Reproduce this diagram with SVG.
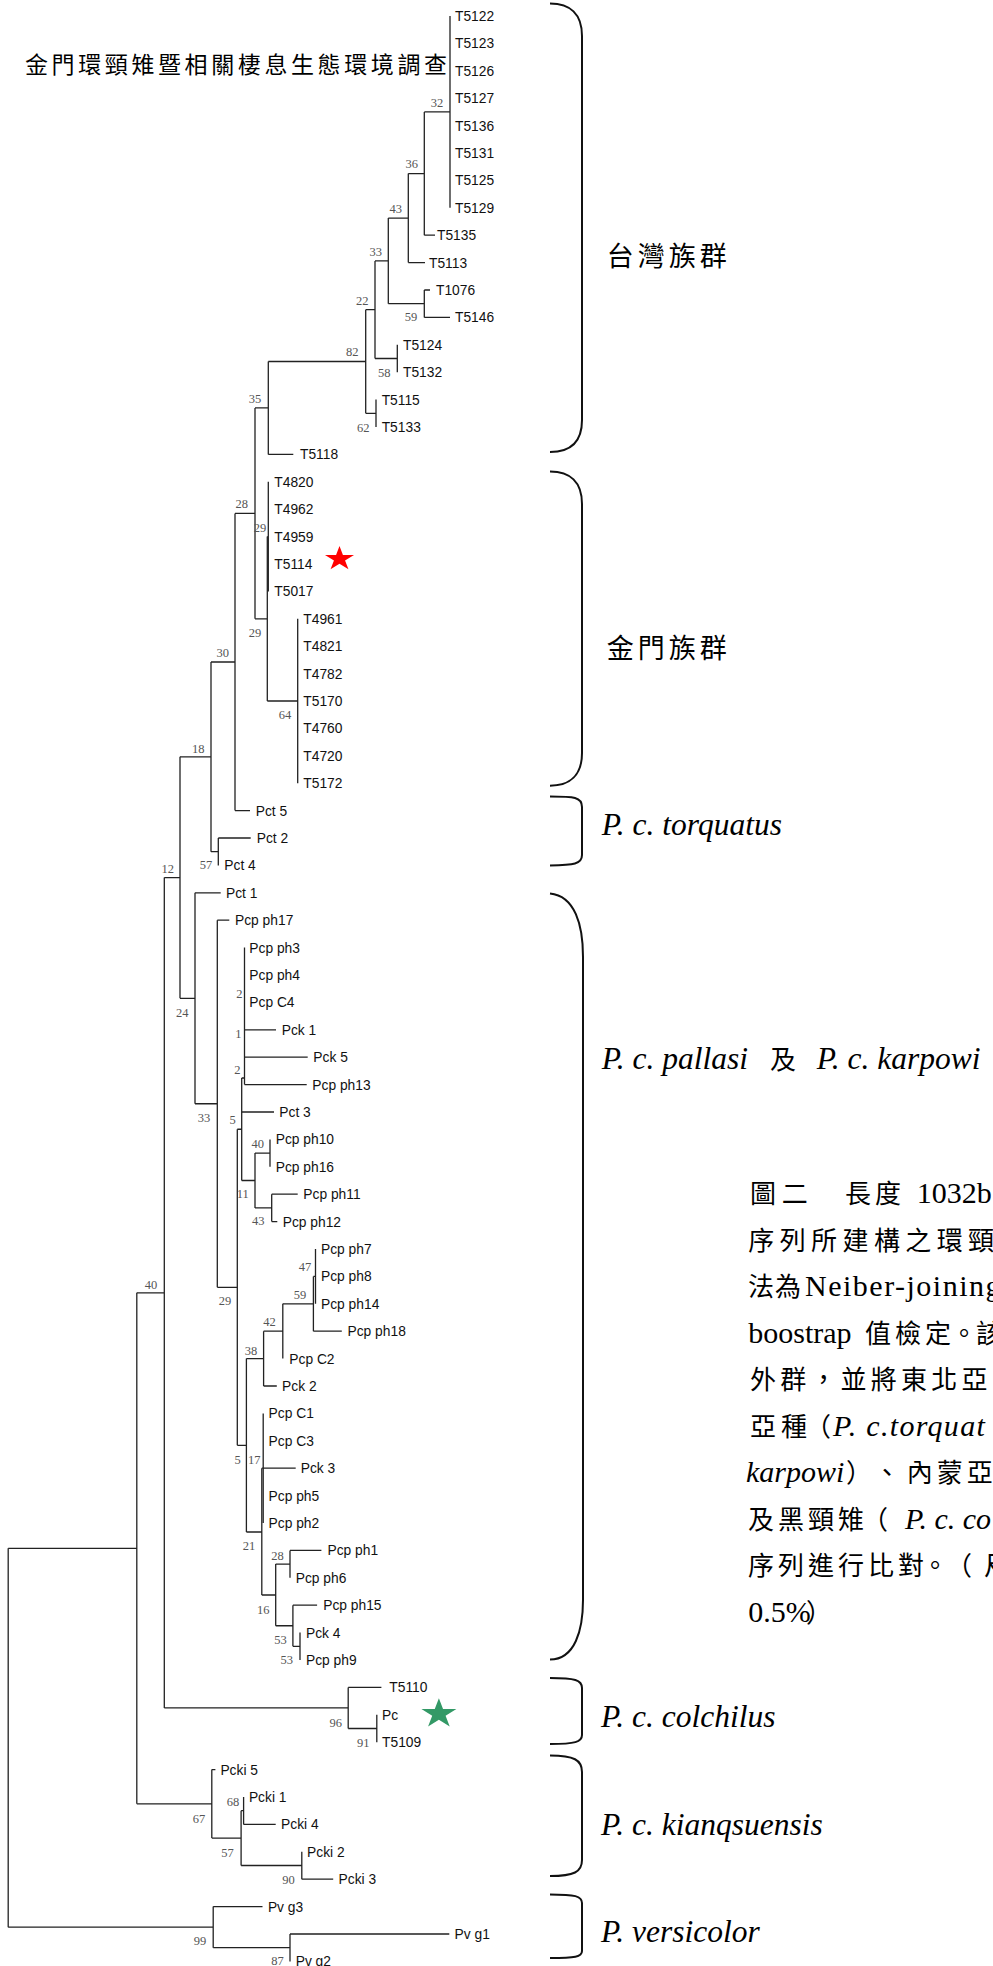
<svg xmlns="http://www.w3.org/2000/svg" xmlns:xlink="http://www.w3.org/1999/xlink" width="993" height="1966" viewBox="0 0 993 1966">
<style>
.ln{fill:none;stroke:#222;stroke-width:1.3}
.br{fill:none;stroke:#111;stroke-width:2}
.tip{font-family:"Liberation Sans",Arial,sans-serif;font-size:13.8px;fill:#111}
.bs{font-family:"Liberation Serif","Times New Roman",serif;font-size:12.5px;fill:#555;text-anchor:middle}
.cj{font-family:"Noto Sans CJK TC","Noto Sans CJK SC",sans-serif;font-size:26px;fill:#000}
.lab{font-family:"Liberation Serif","Times New Roman",serif;font-style:italic;font-size:31.5px;fill:#000}
</style>
<defs>
<path id="star" d="M0,-1 L0.2245,-0.309 L0.9511,-0.309 L0.3633,0.118 L0.5878,0.809 L0,0.382 L-0.5878,0.809 L-0.3633,0.118 L-0.9511,-0.309 L-0.2245,-0.309Z"/>
</defs>
<rect width="993" height="1966" fill="#fff"/>
<g id="title"><text class="cj" x="25" y="73" style="font-size:23px" letter-spacing="3.6">金門環頸雉暨相關棲息生態環境調查</text></g>
<g id="connectors" class="ln">
<path d="M450,16V207.8 M424.3,111.9H450"/>
<path d="M424.3,111.9V235.2 M424.3,235.2H435 M408.3,173.55H424.3"/>
<path d="M408.3,173.55V262.6 M408.3,262.6H425 M388.3,218.1H408.3"/>
<path d="M424.3,290V317.4 M424.3,290H430 M424.3,317.4H450 M388.3,303.7H424.3"/>
<path d="M388.3,218.1V303.7 M375,260.9H388.3"/>
<path d="M397.3,344.8V372.2 M375,358.5H397.3"/>
<path d="M375,260.9V358.5 M365.7,309.7H375"/>
<path d="M376,399.6V427 M365.7,413.3H376"/>
<path d="M365.7,309.7V413.3 M268.3,361.5H365.7"/>
<path d="M268.3,361.5V454.4 M268.3,454.4H293.3 M255,407.95H268.3"/>
<path d="M268.3,481.8V591.4 M267.3,536.6H268.3"/>
<path d="M297.7,618.8V783.2 M267.3,701H297.7"/>
<path d="M267.3,536.6V701 M255,618.8H267.3"/>
<path d="M255,407.95V618.8 M235,513.4H255"/>
<path d="M235,513.4V810.6 M235,810.6H250 M211,662H235"/>
<path d="M218.3,838V865.4 M218.3,838H250.7 M211,851.7H218.3"/>
<path d="M211,662V851.7 M180,756.85H211"/>
<path d="M180,756.85V998.3 M164.3,877.6H180"/>
<path d="M195,892.8V1103.75 M195,892.8H220.7 M180,998.3H195"/>
<path d="M217.3,920.2V1287.3 M217.3,920.2H229.3 M195,1103.75H217.3"/>
<path d="M237.3,1129.25V1445.3 M217.3,1287.3H237.3"/>
<path d="M244.5,947.6V1084.6 M244.5,1029.8H276 M244.5,1057.2H307.7 M244.5,1084.6H306.7 M241.7,1078H244.5"/>
<path d="M241.7,1078V1180.5 M241.7,1112H274 M237.3,1129.25H241.7"/>
<path d="M255,1153.1V1207.9 M241.7,1180.5H255"/>
<path d="M270,1139.4V1166.8 M255,1153.1H270"/>
<path d="M271.7,1194.2V1221.6 M271.7,1194.2H297.7 M271.7,1221.6H277.3 M255,1207.9H271.7"/>
<path d="M246.4,1358.6V1532 M237.3,1445.3H246.4"/>
<path d="M263.6,1331.2V1386 M263.6,1386H276.8 M246.4,1358.6H263.6"/>
<path d="M282.8,1303.8V1358.6 M263.6,1331.2H282.8"/>
<path d="M313.4,1276.4V1331.2 M313.4,1331.2H341.8 M282.8,1303.8H313.4"/>
<path d="M315.5,1249V1303.8 M313.4,1276.4H315.5"/>
<path d="M261.8,1468.2V1595 M246.4,1532H261.8"/>
<path d="M263.2,1413.4V1523 M263.2,1468.2H295.7 M261.8,1468.2H263.2"/>
<path d="M275.7,1564.1V1625.75 M261.8,1595H275.7"/>
<path d="M290,1550.4V1577.8 M290,1550.4H321.4 M275.7,1564.1H290"/>
<path d="M292.9,1605.2V1646.3 M292.9,1605.2H317.1 M275.7,1625.75H292.9"/>
<path d="M300,1632.6V1660 M292.9,1646.3H300"/>
<path d="M348.2,1687.4V1728.5 M348.2,1687.4H381.4 M164.3,1707.95H348.2"/>
<path d="M376.8,1714.8V1742.2 M348.2,1728.5H376.8"/>
<path d="M164.3,877.6V1707.95 M136.8,1292.8H164.3"/>
<path d="M136.8,1292.8V1803.85 M8.2,1548.3H136.8"/>
<path d="M211.8,1769.6V1838.1 M211.8,1769.6H215.4 M136.8,1803.85H211.8"/>
<path d="M241.1,1810.7V1865.5 M211.8,1838.1H241.1"/>
<path d="M243.6,1797V1824.4 M243.6,1824.4H275.7 M241.1,1810.7H243.6"/>
<path d="M301.8,1851.8V1879.2 M301.8,1879.2H333.2 M241.1,1865.5H301.8"/>
<path d="M213.2,1906.6V1947.7 M213.2,1906.6H262.5 M8.2,1927.15H213.2"/>
<path d="M290,1934V1961.4 M290,1934H449.3 M213.2,1947.7H290"/>
<path d="M8.2,1548.3V1927.15"/>
</g>
<g id="tips" class="tip">
<g id="n-T5122"><text x="455" y="21">T5122</text></g>
<g id="n-T5123"><text x="455" y="48.4">T5123</text></g>
<g id="n-T5126"><text x="455" y="75.8">T5126</text></g>
<g id="n-T5127"><text x="455" y="103.2">T5127</text></g>
<g id="n-T5136"><text x="455" y="130.6">T5136</text></g>
<g id="n-T5131"><text x="455" y="158">T5131</text></g>
<g id="n-T5125"><text x="455" y="185.4">T5125</text></g>
<g id="n-T5129"><text x="455" y="212.8">T5129</text></g>
<g id="n-T5135"><text x="437" y="240.2">T5135</text></g>
<g id="n-T5113"><text x="429" y="267.6">T5113</text></g>
<g id="n-T1076"><text x="436" y="295">T1076</text></g>
<g id="n-T5146"><text x="455" y="322.4">T5146</text></g>
<g id="n-T5124"><text x="403" y="349.8">T5124</text></g>
<g id="n-T5132"><text x="403" y="377.2">T5132</text></g>
<g id="n-T5115"><text x="381.7" y="404.6">T5115</text></g>
<g id="n-T5133"><text x="381.7" y="432">T5133</text></g>
<g id="n-T5118"><text x="300" y="459.4">T5118</text></g>
<g id="n-T4820"><text x="274.3" y="486.8">T4820</text></g>
<g id="n-T4962"><text x="274.3" y="514.2">T4962</text></g>
<g id="n-T4959"><text x="274.3" y="541.6">T4959</text></g>
<g id="n-T5114"><text x="274.3" y="569">T5114</text></g>
<g id="n-T5017"><text x="274.3" y="596.4">T5017</text></g>
<g id="n-T4961"><text x="303.3" y="623.8">T4961</text></g>
<g id="n-T4821"><text x="303.3" y="651.2">T4821</text></g>
<g id="n-T4782"><text x="303.3" y="678.6">T4782</text></g>
<g id="n-T5170"><text x="303.3" y="706">T5170</text></g>
<g id="n-T4760"><text x="303.3" y="733.4">T4760</text></g>
<g id="n-T4720"><text x="303.3" y="760.8">T4720</text></g>
<g id="n-T5172"><text x="303.3" y="788.2">T5172</text></g>
<g id="n-Pct5"><text x="255.7" y="815.6">Pct 5</text></g>
<g id="n-Pct2"><text x="256.7" y="843">Pct 2</text></g>
<g id="n-Pct4"><text x="224.3" y="870.4">Pct 4</text></g>
<g id="n-Pct1"><text x="226" y="897.8">Pct 1</text></g>
<g id="n-Pcpph17"><text x="235" y="925.2">Pcp ph17</text></g>
<g id="n-Pcpph3"><text x="249.3" y="952.6">Pcp ph3</text></g>
<g id="n-Pcpph4"><text x="249.3" y="980">Pcp ph4</text></g>
<g id="n-PcpC4"><text x="249.3" y="1007.4">Pcp C4</text></g>
<g id="n-Pck1"><text x="281.7" y="1034.8">Pck 1</text></g>
<g id="n-Pck5"><text x="313.3" y="1062.2">Pck 5</text></g>
<g id="n-Pcpph13"><text x="312.3" y="1089.6">Pcp ph13</text></g>
<g id="n-Pct3"><text x="279.3" y="1117">Pct 3</text></g>
<g id="n-Pcpph10"><text x="275.7" y="1144.4">Pcp ph10</text></g>
<g id="n-Pcpph16"><text x="275.7" y="1171.8">Pcp ph16</text></g>
<g id="n-Pcpph11"><text x="303.3" y="1199.2">Pcp ph11</text></g>
<g id="n-Pcpph12"><text x="282.7" y="1226.6">Pcp ph12</text></g>
<g id="n-Pcpph7"><text x="321" y="1254">Pcp ph7</text></g>
<g id="n-Pcpph8"><text x="321" y="1281.4">Pcp ph8</text></g>
<g id="n-Pcpph14"><text x="321" y="1308.8">Pcp ph14</text></g>
<g id="n-Pcpph18"><text x="347.5" y="1336.2">Pcp ph18</text></g>
<g id="n-PcpC2"><text x="289.3" y="1363.6">Pcp C2</text></g>
<g id="n-Pck2"><text x="282.1" y="1391">Pck 2</text></g>
<g id="n-PcpC1"><text x="268.6" y="1418.4">Pcp C1</text></g>
<g id="n-PcpC3"><text x="268.6" y="1445.8">Pcp C3</text></g>
<g id="n-Pck3"><text x="300.7" y="1473.2">Pck 3</text></g>
<g id="n-Pcpph5"><text x="268.6" y="1500.6">Pcp ph5</text></g>
<g id="n-Pcpph2"><text x="268.6" y="1528">Pcp ph2</text></g>
<g id="n-Pcpph1"><text x="327.5" y="1555.4">Pcp ph1</text></g>
<g id="n-Pcpph6"><text x="295.7" y="1582.8">Pcp ph6</text></g>
<g id="n-Pcpph15"><text x="323.2" y="1610.2">Pcp ph15</text></g>
<g id="n-Pck4"><text x="306" y="1637.6">Pck 4</text></g>
<g id="n-Pcpph9"><text x="306" y="1665">Pcp ph9</text></g>
<g id="n-T5110"><text x="389.3" y="1692.4">T5110</text></g>
<g id="n-Pc"><text x="382.1" y="1719.8">Pc</text></g>
<g id="n-T5109"><text x="382.1" y="1747.2">T5109</text></g>
<g id="n-Pcki5"><text x="220.4" y="1774.6">Pcki 5</text></g>
<g id="n-Pcki1"><text x="248.9" y="1802">Pcki 1</text></g>
<g id="n-Pcki4"><text x="281.1" y="1829.4">Pcki 4</text></g>
<g id="n-Pcki2"><text x="307.1" y="1856.8">Pcki 2</text></g>
<g id="n-Pcki3"><text x="338.6" y="1884.2">Pcki 3</text></g>
<g id="n-Pvg3"><text x="267.9" y="1911.6">Pv g3</text></g>
<g id="n-Pvg1"><text x="454.6" y="1939">Pv g1</text></g>
<g id="n-Pvg2"><text x="295.7" y="1966.4">Pv g2</text></g>
</g>
<g id="bootstrap" class="bs">
<text x="437" y="107.2">32</text>
<text x="411.7" y="168.2">36</text>
<text x="395.7" y="213.2">43</text>
<text x="411" y="321.2">59</text>
<text x="375.7" y="255.9">33</text>
<text x="384.3" y="376.5">58</text>
<text x="362.3" y="304.9">22</text>
<text x="363.3" y="431.5">62</text>
<text x="352.3" y="355.9">82</text>
<text x="255" y="402.5">35</text>
<text x="241.7" y="507.5">28</text>
<text x="260" y="531.5">29</text>
<text x="255" y="636.5">29</text>
<text x="285" y="718.5">64</text>
<text x="222.7" y="656.5">30</text>
<text x="206" y="869.2">57</text>
<text x="198.3" y="752.5">18</text>
<text x="167.7" y="872.5">12</text>
<text x="182.3" y="1016.9">24</text>
<text x="204" y="1121.5">33</text>
<text x="225" y="1304.9">29</text>
<text x="239.3" y="997.5">2</text>
<text x="238.3" y="1038.2">1</text>
<text x="237.3" y="1073.5">2</text>
<text x="232.7" y="1124.2">5</text>
<text x="242.7" y="1198.2">11</text>
<text x="257.7" y="1148.2">40</text>
<text x="258.3" y="1225.2">43</text>
<text x="305" y="1270.9">47</text>
<text x="300" y="1299.2">59</text>
<text x="269.6" y="1325.9">42</text>
<text x="251" y="1354.9">38</text>
<text x="237.5" y="1463.5">5</text>
<text x="254.3" y="1463.5">17</text>
<text x="249" y="1550.2">21</text>
<text x="277.5" y="1560.2">28</text>
<text x="263.2" y="1613.5">16</text>
<text x="280.4" y="1643.5">53</text>
<text x="286.8" y="1664.2">53</text>
<text x="335.7" y="1726.5">96</text>
<text x="363.2" y="1746.9">91</text>
<text x="151" y="1289.2">40</text>
<text x="199" y="1822.5">67</text>
<text x="232.9" y="1805.9">68</text>
<text x="227.5" y="1856.9">57</text>
<text x="288.6" y="1883.5">90</text>
<text x="200" y="1945.2">99</text>
<text x="277.5" y="1964.9">87</text>
</g>
<g id="stars">
<use xlink:href="#star" href="#star" transform="translate(339.5,558.9) scale(15.25,12.9)" fill="#ff0000"/>
<use xlink:href="#star" href="#star" transform="translate(438.9,1713.9) scale(18.4,15.6)" fill="#339966"/>
</g>
<g id="braces" class="br">
<path d="M550,3.5 C570,3.5 582,14 582,36 L582,420 C582,442 570,452 550,452"/>
<path d="M550,471.5 C570,471.5 582,482 582,504 L582,753 C582,775 570,785.7 550,785.7"/>
<path d="M550,796.5 C574,796.5 582,797 582,807 L582,855 C582,864 574,865 550,865.5"/>
<path d="M550,893.5 C575,896 583,925 583,957 L583,1600 C583,1630 575,1659.5 550,1659.5"/>
<path d="M550,1678 C575,1678 582,1680 582,1688 L582,1735 C582,1742 575,1744 550,1744"/>
<path d="M550,1755.5 C574,1755.5 582,1760 582,1772 L582,1860 C582,1872 574,1876 550,1876"/>
<path d="M550,1894.5 C575,1894.5 582,1896 582,1903 L582,1951 C582,1957 575,1958 550,1958"/>
</g>
<g id="clade-labels">
<g id="lab-taiwan"><text class="cj" x="606.7" y="265.6" style="font-size:27px" letter-spacing="4">台灣族群</text></g>
<g id="lab-kinmen"><text class="cj" x="606.7" y="658.3" style="font-size:27px" letter-spacing="4">金門族群</text></g>
<g id="lab-torquatus"><text class="lab" x="601.7" y="835">P. c. torquatus</text></g>
<g id="lab-pallasi"><text class="lab" y="1069"><tspan x="601.7">P. c. pallasi</tspan><tspan x="770" style="font-family:'Noto Sans CJK TC',sans-serif;font-style:normal;font-size:26px">及</tspan><tspan x="816.7">P. c. karpowi</tspan></text></g>
<g id="lab-colchilus"><text class="lab" x="601" y="1726.7">P. c. colchilus</text></g>
<g id="lab-kianqsuensis"><text class="lab" x="601" y="1835">P. c. kianqsuensis</text></g>
<g id="lab-versicolor"><text class="lab" x="601" y="1941.5">P. versicolor</text></g>
</g>
<g id="caption" class="cj">
<text y="1203"><tspan x="750" letter-spacing="5.7">圖二</tspan><tspan x="845" letter-spacing="4">長度</tspan><tspan x="916.7" style="font-family:'Liberation Serif',serif;font-size:30px">1032b</tspan></text>
<text y="1249.5"><tspan x="748.3" letter-spacing="5.4">序列所建構之環頸</tspan></text>
<text y="1296"><tspan x="748" letter-spacing="1">法為</tspan><tspan x="805" style="font-family:'Liberation Serif',serif;font-size:30px" letter-spacing="1.5">Neiber-joining</tspan></text>
<text y="1342.5"><tspan x="748.3" style="font-family:'Liberation Serif',serif;font-size:30px">boostrap</tspan><tspan x="865" letter-spacing="4">值檢定</tspan><tspan x="951">。</tspan><tspan x="976">該</tspan></text>
<text y="1389"><tspan x="750" letter-spacing="4.2">外群，並將東北亞</tspan></text>
<text y="1435.5"><tspan x="750" letter-spacing="5">亞種</tspan><tspan x="805">（</tspan><tspan x="833" style="font-family:'Liberation Serif',serif;font-style:italic;font-size:30px" letter-spacing="1.3">P. c.torquat</tspan></text>
<text y="1482"><tspan x="746" style="font-family:'Liberation Serif',serif;font-style:italic;font-size:30px">karpowi</tspan><tspan x="846">）</tspan><tspan x="874">、</tspan><tspan x="906.7" letter-spacing="4">內蒙亞</tspan></text>
<text y="1528.5"><tspan x="748" letter-spacing="4">及黑頸雉</tspan><tspan x="862">（</tspan><tspan x="905" style="font-family:'Liberation Serif',serif;font-style:italic;font-size:30px">P. c. co</tspan></text>
<text y="1575"><tspan x="748" letter-spacing="4">序列進行比對</tspan><tspan x="922">。</tspan><tspan x="946">（</tspan><tspan x="984">尺</tspan></text>
<text y="1621.5"><tspan x="748.3" style="font-family:'Liberation Serif',serif;font-size:30px">0.5%</tspan><tspan x="806">）</tspan></text>
</g>
</svg>
